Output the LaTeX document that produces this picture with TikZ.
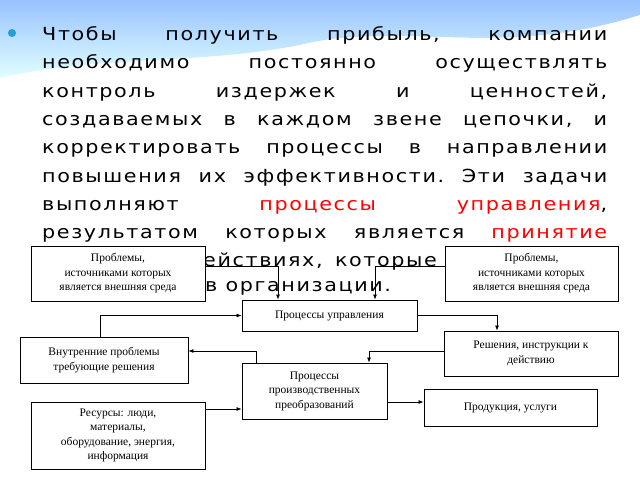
\documentclass[tikz,border=0pt]{standalone}
\usepackage{fontspec}
\setmainfont{Liberation Serif}
\newfontfamily\slidefont[FakeStretch=1.15,LetterSpace=9]{DejaVu Sans}
\usetikzlibrary{arrows.meta}
\begin{document}
\begin{tikzpicture}[x=1pt,y=-1pt,
  box/.style={draw=black,line width=0.9pt,fill=white,align=center,inner sep=2pt,font=\fontsize{11.5}{14.5}\selectfont},
  arr/.style={-{Latex[length=5pt,width=4pt]},line width=0.7pt},
  tl/.style={anchor=base west,inner sep=0,font=\slidefont\fontsize{18}{18}\selectfont}]
\useasboundingbox (0,0) rectangle (640,480);
\fill[white] (0,0) rectangle (640,480);
\shade[top color=cyan!40!blue!40,bottom color=cyan!12] (0,0) -- (640,0) -- (640,15) .. controls (500,60) and (400,20) .. (300,45) .. controls (200,65) and (100,55) .. (0,78) -- cycle;
\fill[white,opacity=0.6] (0,78) .. controls (100,55) and (200,65) .. (300,45) .. controls (400,20) and (500,60) .. (640,15) -- (640,35) .. controls (500,70) and (400,40) .. (300,60) .. controls (200,75) and (100,70) .. (0,85) -- cycle;
\fill[cyan!70!teal] (12,33) circle (4);
\node[tl] (l1) at (42,40) {\makebox[565pt][l]{Чтобы\hfill получить\hfill прибыль,\hfill компании}};
\node[tl] (l2) at (42,68) {\makebox[565pt][l]{необходимо\hfill постоянно\hfill осуществлять}};
\node[tl] (l3) at (42,97) {\makebox[565pt][l]{контроль\hfill издержек\hfill и\hfill ценностей,}};
\node[tl] (l4) at (42,125) {\makebox[565pt][l]{создаваемых\hfill в\hfill каждом\hfill звене\hfill цепочки,\hfill и}};
\node[tl] (l5) at (42,153) {\makebox[565pt][l]{корректировать\hfill процессы\hfill в\hfill направлении}};
\node[tl] (l6) at (42,182) {\makebox[565pt][l]{повышения\hfill их\hfill эффективности.\hfill Эти\hfill задачи}};
\node[tl] (l7) at (42,210) {\makebox[565pt][l]{выполняют\hfill \textcolor{red}{процессы}\hfill \textcolor{red}{управления},}};
\node[tl] (l8) at (42,238) {\makebox[565pt][l]{результатом\hfill которых\hfill является\hfill \textcolor{red}{принятие}}};
\node[tl] (l9) at (42,266) {\makebox[565pt][l]{\textcolor{red}{решений}\hfill о\hfill действиях,\hfill которые\hfill реализуются}};
\node[tl] (l10) at (42,291) {\hspace*{163pt}в организации.};
\node[box,minimum width=174pt,minimum height=55pt] (b1) at (118,273.5) {Проблемы,\\источниками которых\\является внешняя среда};
\node[box,minimum width=173pt,minimum height=55pt] (b2) at (531.5,273.5) {Проблемы,\\источниками которых\\является внешняя среда};
\node[box,minimum width=175pt,minimum height=31pt] (pu) at (329.5,315.5) {Процессы управления};
\node[box,minimum width=174pt,minimum height=45pt] (res) at (531,353.5) {Решения, инструкции к\\действию};
\node[box,minimum width=168pt,minimum height=46pt] (vn) at (104,360) {Внутренние проблемы\\требующие решения};
\node[box,minimum width=145pt,minimum height=56pt] (ppp) at (314.5,391) {Процессы\\производственных\\преобразований};
\node[box,minimum width=173pt,minimum height=37pt] (pr) at (510.5,407.5) {Продукция, услуги};
\node[box,minimum width=174pt,minimum height=67pt] (rs) at (118,435.5) {Ресурсы: люди,\\материалы,\\оборудование, энергия,\\информация};
\draw[arr] ([yshift=7.5pt]b1.east) -| ([xshift=-51.5pt]pu.north);
\draw[arr] ([yshift=7.5pt]b2.west) -| ([xshift=45.5pt]pu.north);
\draw[arr] (pu.east) -| ([xshift=-34pt]res.north);
\draw[arr] ([xshift=-4pt]vn.north) |- (pu.west);
\draw[arr] ([yshift=2.5pt]res.west) -| ([xshift=54.5pt]ppp.north);
\draw[arr] ([xshift=-58.5pt]ppp.north) |- ([yshift=9pt]vn.east);
\draw[arr] ([yshift=26.5pt]rs.east) -- ([yshift=-18pt]ppp.west);
\draw[arr] ([yshift=-11pt]ppp.east) -- ([yshift=5.5pt]pr.west);
\end{tikzpicture}
\end{document}
